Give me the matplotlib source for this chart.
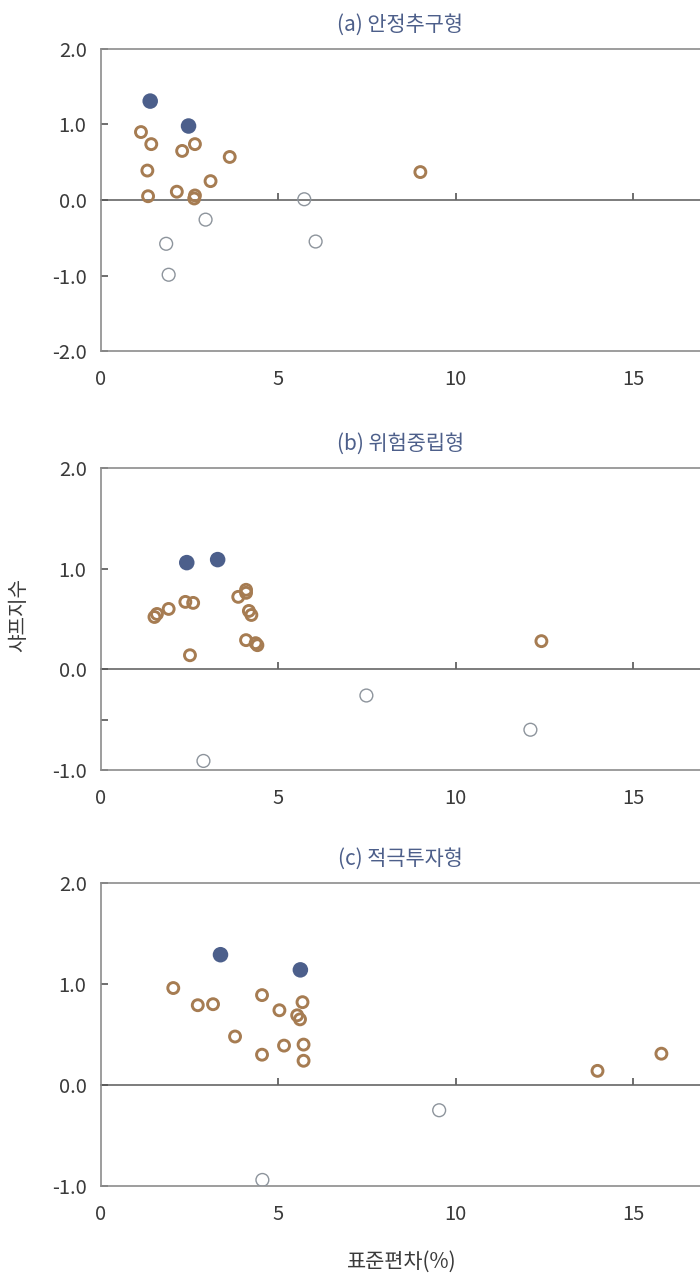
import matplotlib
matplotlib.use("Agg")
import matplotlib.pyplot as plt

plt.rcParams['font.family'] = ['Noto Sans CJK KR', 'DejaVu Sans']

# (a) 안정추구형
a_best_x = [1.40, 2.48]
a_best_y = [1.31, 0.98]
a_pos_x = [1.14, 1.43, 2.30, 2.66, 3.64, 1.32, 3.10, 1.34, 2.15, 2.66, 2.64, 9.01]
a_pos_y = [0.90, 0.74, 0.65, 0.74, 0.57, 0.39, 0.25, 0.05, 0.11, 0.06, 0.02, 0.37]
a_neg_x = [5.74, 6.06, 2.96, 1.85, 1.92]
a_neg_y = [0.01, -0.55, -0.26, -0.58, -0.99]

# (b) 위험중립형
b_best_x = [2.43, 3.30]
b_best_y = [1.06, 1.09]
b_pos_x = [1.52, 1.59, 1.92, 2.39, 2.61, 2.52, 3.88, 4.10, 4.10, 4.18, 4.25, 4.10, 4.37, 4.42, 12.42]
b_pos_y = [0.52, 0.55, 0.60, 0.67, 0.66, 0.14, 0.72, 0.79, 0.76, 0.58, 0.54, 0.29, 0.26, 0.24, 0.28]
b_neg_x = [7.49, 12.11, 2.90]
b_neg_y = [-0.26, -0.60, -0.91]

# (c) 적극투자형
c_best_x = [3.38, 5.63]
c_best_y = [1.29, 1.14]
c_pos_x = [2.05, 2.74, 3.17, 4.55, 5.04, 5.69, 5.54, 5.62, 3.79, 4.55, 5.17, 5.72, 5.72, 14.00, 15.80]
c_pos_y = [0.96, 0.79, 0.80, 0.89, 0.74, 0.82, 0.69, 0.65, 0.48, 0.30, 0.39, 0.40, 0.24, 0.14, 0.31]
c_neg_x = [9.54, 4.56]
c_neg_y = [-0.25, -0.94]

panels = [
    ("(a) 안정추구형", (-2, 2), [2, 1, 0, -1, -2], ["2.0", "1.0", "0.0", "-1.0", "-2.0"],
     a_best_x, a_best_y, a_pos_x, a_pos_y, a_neg_x, a_neg_y),
    ("(b) 위험중립형", (-1, 2), [2, 1, 0, -0.5, -1], ["2.0", "1.0", "0.0", "", "-1.0"],
     b_best_x, b_best_y, b_pos_x, b_pos_y, b_neg_x, b_neg_y),
    ("(c) 적극투자형", (-1, 2), [2, 1, 0, -1], ["2.0", "1.0", "0.0", "-1.0"],
     c_best_x, c_best_y, c_pos_x, c_pos_y, c_neg_x, c_neg_y),
]
x_ticks = [0, 5, 10, 15]

BLUE = "#4c5f8b"
BROWN = "#a67c52"
GRAY = "#8d949c"
SPINE = "#8c8c8c"
TEXT = "#3a3a3a"

W, H = 700, 1277
fig = plt.figure(figsize=(W / 100, H / 100), dpi=100)

# axes boxes in pixels: (top, bottom)
boxes = [(49, 351), (468, 770), (883, 1186)]
left_px = 100.5

for (title, ylim, yt, ytl, bx, by, px, py, nx, ny), (top, bot) in zip(panels, boxes):
    ax = fig.add_axes([left_px / W, 1 - bot / H, (W - left_px) / W, (bot - top) / H])
    ax.set_xlim(0, (W - left_px) / 35.5)
    ax.set_ylim(*ylim)

    ax.scatter(px, py, s=62, facecolors="none", edgecolors=BROWN, linewidths=2.1, zorder=3)
    ax.scatter(nx, ny, s=85, facecolors="none", edgecolors=GRAY, linewidths=1.0, zorder=3)
    ax.scatter(bx, by, s=125, color=BLUE, edgecolors="none", zorder=4)

    for side in ["left", "top", "bottom"]:
        ax.spines[side].set_color(SPINE)
        ax.spines[side].set_linewidth(1.2)
    ax.spines["right"].set_visible(False)

    ax.set_yticks(yt)
    ax.set_yticklabels(ytl)
    ax.tick_params(axis="y", direction="in", length=5, width=1.2, color="#555555",
                   labelsize=14.5, labelcolor=TEXT, pad=10)
    ax.set_xticks(x_ticks)
    ax.tick_params(axis="x", length=0, labelsize=14.5, labelcolor=TEXT, pad=13)

    # zero line carrying the x tick marks
    zero = (0 - ylim[0]) / (ylim[1] - ylim[0])
    sec = ax.secondary_xaxis(zero)
    sec.set_alignment("bottom")
    sec.spines["bottom"].set_color("#666666")
    sec.spines["bottom"].set_linewidth(1.2)
    sec.set_xticks([5, 10, 15])
    sec.tick_params(axis="x", direction="in", length=5, width=1.2, color="#555555",
                    labelbottom=False)

    ax.set_title(title, fontsize=15, color="#4d5f8a", pad=13)

fig.text(19 / W, 1 - 615 / H, "샤프지수", rotation=90, ha="center", va="center",
         fontsize=14.5, color=TEXT)
fig.text(402 / W, 1 - 1262 / H, "표준편차(%)", ha="center", va="center",
         fontsize=15, color=TEXT)

fig.savefig("out.png", dpi=100)
